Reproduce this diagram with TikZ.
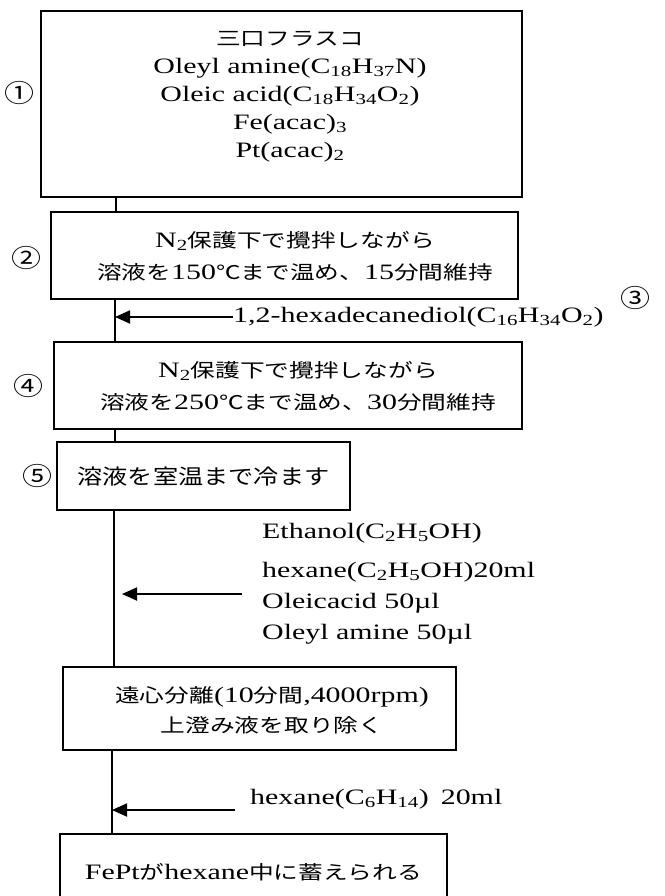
\documentclass[tikz,border=0pt]{standalone}
\usepackage{fontspec}
\setmainfont{Liberation Serif}[FakeStretch=1.36]
\newfontfamily\jpfont{Noto Sans CJK JP}[FakeStretch=1.3]
\newfontfamily\jpwide{Noto Sans CJK JP}[FakeStretch=1.2]
\usetikzlibrary{arrows.meta,calc}
\newcommand{\ja}[1]{{\jpfont\fontsize{19}{28}\selectfont #1}}
\newcommand{\sbs}[1]{\textsubscript{#1}}
\tikzset{
  stepbox/.style={draw, line width=1.6pt, inner sep=0pt},
  txt/.style={inner sep=0pt, align=center, font=\fontsize{22}{28}\selectfont},
  spine/.style={line width=1.8pt},
  feed/.style={line width=1.8pt, -{Triangle[length=15pt,width=13pt]}},
  num/.style={inner sep=0pt, font=\jpwide\fontsize{25}{28}\selectfont},
}
\begin{document}
\begin{tikzpicture}[x=1pt,y=-1pt]
  \useasboundingbox (0,0) rectangle (664,896);
  % spine x positions
  \coordinate (s1) at (116,0);
  \coordinate (s2) at (115,0);
  \coordinate (s3) at (115,0);
  \coordinate (s4) at (114,0);
  \coordinate (s5) at (112,0);

  % step boxes
  \node[stepbox, minimum width=481pt, minimum height=186pt] (flask) at (281.5,104) {};
  \node[stepbox, minimum width=467pt, minimum height=87pt] (heatA) at (284.5,255.5) {};
  \node[stepbox, minimum width=468pt, minimum height=87pt] (heatB) at (288,385.5) {};
  \node[stepbox, minimum width=293pt, minimum height=68pt] (cool) at (203.5,476) {};
  \node[stepbox, minimum width=393pt, minimum height=83pt] (spin) at (259.5,708.5) {};
  \node[stepbox, minimum width=387pt, minimum height=90pt] (store) at (253.5,879) {};

  % box texts
  \node[txt] (flaskT) at (290,97) {\ja{三口フラスコ}\\
    Oleyl amine(C\sbs{18}H\sbs{37}N)\\
    Oleic acid(C\sbs{18}H\sbs{34}O\sbs{2})\\
    Fe(acac)\sbs{3}\\
    Pt(acac)\sbs{2}};
  \node[txt] (heatAT) at (295,256) {N\sbs{2}\ja{保護下で攪拌しながら}\\[4pt]
    \ja{溶液を}150\ja{℃まで温め、}15\ja{分間維持}};
  \node[txt] (heatBT) at (298,386) {N\sbs{2}\ja{保護下で攪拌しながら}\\[4pt]
    \ja{溶液を}250\ja{℃まで温め、}30\ja{分間維持}};
  \node[txt] (coolT) at (203.5,477) {{\jpwide\fontsize{21}{28}\selectfont 溶液を室温まで冷ます}};
  \node[txt] (spinT) at (272,710) {\ja{遠心分離}(10\ja{分間},4000rpm)\\[2pt]
    \ja{上澄み液を取り除く}};
  \node[txt] (storeT) at (253.5,872) {FePt\ja{が}hexane\ja{中に蓄えられる}};

  % step numbers
  \node[num] (n1) at (20,93) {①};
  \node[num] (n2) at (27,258) {②};
  \node[num] (n3) at (635,298) {③};
  \node[num] (n4) at (28,386) {④};
  \node[num] (n5) at (38,476) {⑤};

  % spine
  \draw[spine] (s1 |- flask.south) -- (s1 |- heatA.north);
  \draw[spine] (s2 |- heatA.south) -- (s2 |- heatB.north);
  \draw[spine] (s3 |- heatB.south) -- (s3 |- cool.north);
  \draw[spine] (s4 |- cool.south) -- (s4 |- spin.north);
  \draw[spine] (s5 |- spin.south) -- (s5 |- store.north);

  % added reagents
  \node[txt, anchor=west] (diol) at (233,317) {1,2-hexadecanediol(C\sbs{16}H\sbs{34}O\sbs{2})};
  \draw[feed] (diol.west) -- (diol.west -| s2);

  \node[txt, anchor=west] (eth) at (262,533) {Ethanol(C\sbs{2}H\sbs{5}OH)};
  \node[txt, anchor=west, align=left, font=\fontsize{22}{31}\selectfont] (mix) at (262,603)
    {hexane(C\sbs{2}H\sbs{5}OH)20ml\\ Oleicacid 50µl\\ Oleyl amine 50µl};
  \coordinate (tailA) at ($(mix.west)+(-20,-9)$);
  \coordinate (tipA) at ($(tailA -| s4)+(8,0)$);
  \draw[feed] (tailA) -- (tipA);

  \node[txt, anchor=west] (hex) at (250,799) {hexane(C\sbs{6}H\sbs{14})\hspace{12pt}20ml};
  \coordinate (tailB) at ($(hex.west)+(-15,11)$);
  \draw[feed] (tailB) -- (tailB -| s5);
\end{tikzpicture}
\end{document}
